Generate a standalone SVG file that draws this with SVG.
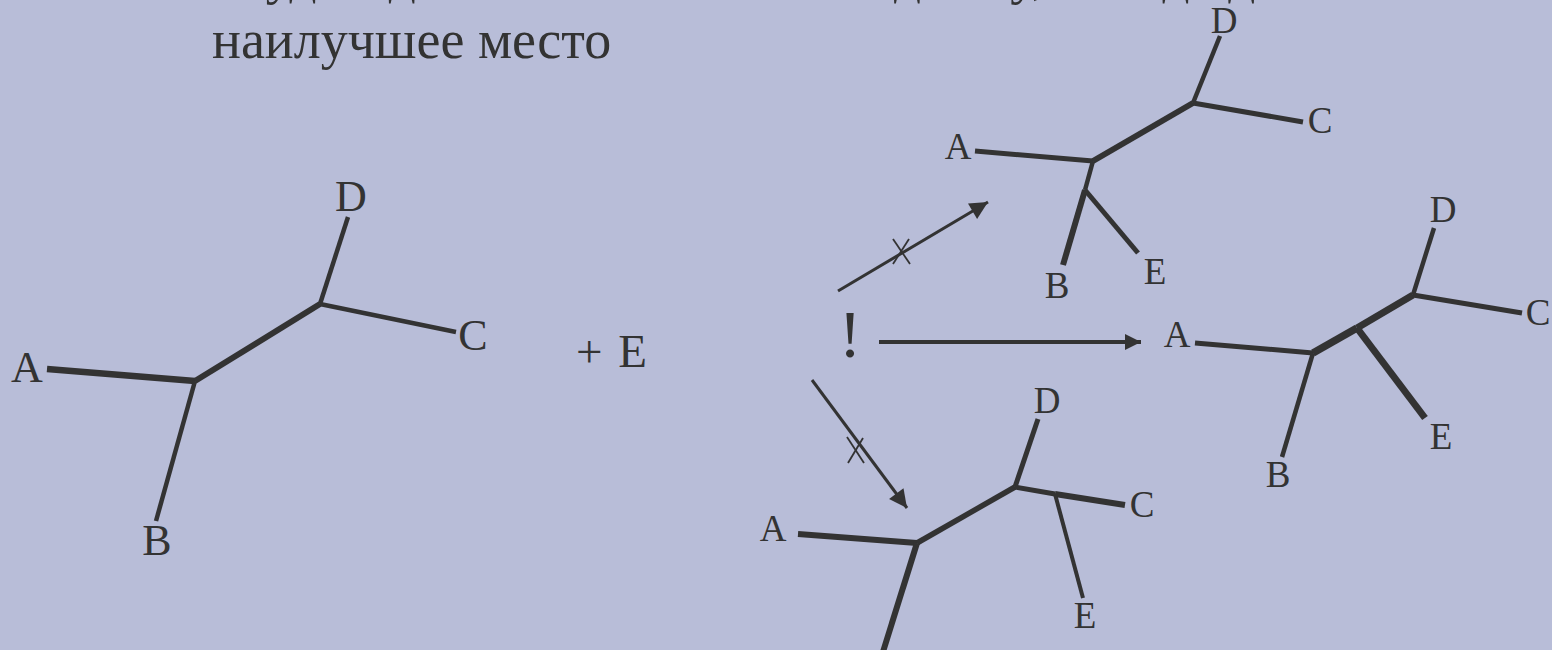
<svg xmlns="http://www.w3.org/2000/svg" width="1552" height="650" viewBox="0 0 1552 650">
  <defs>
    <style>
      .t { font-family: "Liberation Serif", "Times New Roman", serif; fill: #333333; }
      .big { font-size: 44px; }
      .sm { font-size: 37px; }
      .title { font-size: 54px; }
      .br { stroke: #333333; fill: none; stroke-linecap: butt; }
      .arr { stroke: #333333; fill: none; }
      .x { stroke: #333333; stroke-width: 1.8; }
    </style>
    <marker id="ah" viewBox="0 0 10 10" refX="10" refY="5" markerWidth="6.5" markerHeight="6" markerUnits="strokeWidth" orient="auto">
      <path d="M0,0 L10,5 L0,10 z" fill="#333333"/>
    </marker>
    <marker id="ah2" viewBox="0 0 10 10" refX="10" refY="5" markerWidth="4.8" markerHeight="4" markerUnits="strokeWidth" orient="auto">
      <path d="M0,0 L10,5 L0,10 z" fill="#333333"/>
    </marker>
  </defs>
  <rect width="1552" height="650" fill="#B8BDD8"/>

  <g id="title">
    <text class="t title" x="236" y="-7">Будем добавлять листья по одному, находя для него</text>
    <text class="t title" x="212" y="58">наилучшее место</text>
  </g>

  <g id="tree-left">
    <line class="br" x1="47" y1="369" x2="195" y2="381" stroke-width="6.5"/>
    <line class="br" x1="195" y1="381" x2="320" y2="304" stroke-width="6"/>
    <line class="br" x1="320" y1="304" x2="348" y2="217" stroke-width="4.5"/>
    <line class="br" x1="320" y1="304" x2="456" y2="332" stroke-width="4.5"/>
    <line class="br" x1="195" y1="381" x2="156" y2="521" stroke-width="4.5"/>
    <text class="t big" x="27" y="382" text-anchor="middle">A</text>
    <text class="t big" x="351" y="211" text-anchor="middle">D</text>
    <text class="t big" x="473" y="350" text-anchor="middle">C</text>
    <text class="t big" x="157" y="555" text-anchor="middle">B</text>
  </g>

  <g id="plus-e">
    <text class="t" x="576" y="367" font-size="47" word-spacing="4">+ E</text>
  </g>

  <g id="exclam">
    <text class="t" x="850" y="357" font-size="68" text-anchor="middle">!</text>
  </g>

  <g id="tree-top">
    <line class="br" x1="975" y1="151" x2="1093" y2="161" stroke-width="5"/>
    <line class="br" x1="1093" y1="161" x2="1193" y2="103" stroke-width="6"/>
    <line class="br" x1="1193" y1="103" x2="1303" y2="122" stroke-width="5"/>
    <line class="br" x1="1193" y1="103" x2="1220" y2="36" stroke-width="4.5"/>
    <line class="br" x1="1093" y1="161" x2="1085" y2="190" stroke-width="4.5"/>
    <line class="br" x1="1085" y1="190" x2="1063" y2="265" stroke-width="6"/>
    <line class="br" x1="1085" y1="190" x2="1138" y2="253" stroke-width="5"/>
    <text class="t sm" x="958" y="159" text-anchor="middle">A</text>
    <text class="t sm" x="1224" y="33" text-anchor="middle">D</text>
    <text class="t sm" x="1320" y="133" text-anchor="middle">C</text>
    <text class="t sm" x="1057" y="298" text-anchor="middle">B</text>
    <text class="t sm" x="1155" y="284" text-anchor="middle">E</text>
  </g>

  <g id="tree-right">
    <line class="br" x1="1195" y1="343" x2="1313" y2="353" stroke-width="5"/>
    <line class="br" x1="1313" y1="353" x2="1357" y2="328" stroke-width="7.5"/>
    <line class="br" x1="1357" y1="328" x2="1413" y2="295" stroke-width="7"/>
    <line class="br" x1="1413" y1="295" x2="1434" y2="228" stroke-width="4.5"/>
    <line class="br" x1="1413" y1="295" x2="1522" y2="313" stroke-width="5"/>
    <line class="br" x1="1357" y1="328" x2="1425" y2="418" stroke-width="7"/>
    <line class="br" x1="1313" y1="353" x2="1282" y2="457" stroke-width="4.5"/>
    <text class="t sm" x="1177" y="347" text-anchor="middle">A</text>
    <text class="t sm" x="1443" y="222" text-anchor="middle">D</text>
    <text class="t sm" x="1538" y="325" text-anchor="middle">C</text>
    <text class="t sm" x="1441" y="449" text-anchor="middle">E</text>
    <text class="t sm" x="1278" y="487" text-anchor="middle">B</text>
  </g>

  <g id="tree-bottom">
    <line class="br" x1="798" y1="534" x2="917" y2="543" stroke-width="6"/>
    <line class="br" x1="917" y1="543" x2="1015" y2="487" stroke-width="5.5"/>
    <line class="br" x1="1015" y1="487" x2="1038" y2="419" stroke-width="5"/>
    <line class="br" x1="1015" y1="487" x2="1055" y2="494" stroke-width="5"/>
    <line class="br" x1="1055" y1="494" x2="1125" y2="505" stroke-width="6"/>
    <line class="br" x1="1055" y1="494" x2="1083" y2="598" stroke-width="4"/>
    <line class="br" x1="917" y1="543" x2="882" y2="655" stroke-width="6"/>
    <text class="t sm" x="773" y="541" text-anchor="middle">A</text>
    <text class="t sm" x="1047" y="413" text-anchor="middle">D</text>
    <text class="t sm" x="1142" y="517" text-anchor="middle">C</text>
    <text class="t sm" x="1085" y="628" text-anchor="middle">E</text>
  </g>

  <g id="connectors">
    <line class="arr" x1="838" y1="291" x2="988" y2="202" stroke-width="3" marker-end="url(#ah)"/>
    <line class="x" x1="893" y1="239" x2="910" y2="264"/>
    <line class="x" x1="909" y1="239" x2="893" y2="264"/>
    <line class="arr" x1="879" y1="342" x2="1141" y2="342" stroke-width="4" marker-end="url(#ah2)"/>
    <line class="arr" x1="812" y1="380" x2="907" y2="508" stroke-width="3" marker-end="url(#ah)"/>
    <line class="x" x1="847" y1="437" x2="864" y2="463"/>
    <line class="x" x1="863" y1="438" x2="848" y2="463"/>
  </g>
</svg>
